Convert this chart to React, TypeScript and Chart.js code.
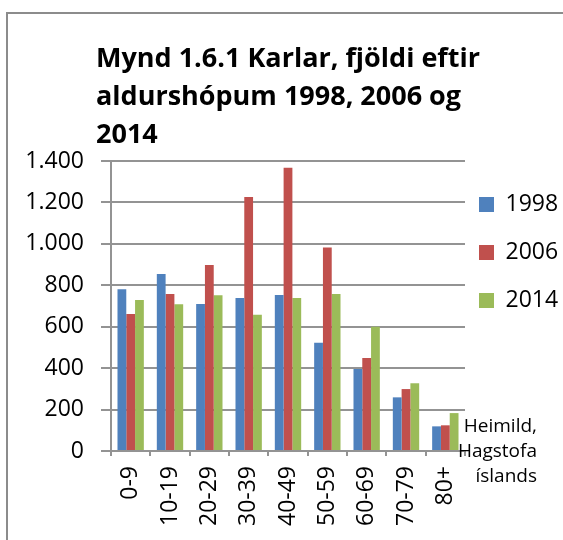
import React, { useEffect, useRef } from "react";
import { Chart, registerables } from "chart.js";

Chart.register(...registerables);

const categories = ["0-9", "10-19", "20-29", "30-39", "40-49", "50-59", "60-69", "70-79", "80+"];
const seriesNames = ["1998", "2006", "2014"];
const values1998 = [781, 855, 710, 739, 753, 523, 396, 259, 119];
const values2006 = [661, 758, 898, 1226, 1368, 983, 449, 299, 124];
const values2014 = [729, 708, 752, 658, 739, 758, 600, 327, 183];
const seriesColors = ["#4F81BD", "#C0504D", "#9BBB59"];
const yMin = 0;
const yMax = 1400;
const yStep = 200;
const titleLines = ["Mynd 1.6.1 Karlar, fjöldi eftir", "aldurshópum 1998, 2006 og", "2014"];
const sourceLines = ["Heimild,", "Hagstofa", "íslands"];

const FONT = "'Open Sans', 'Liberation Sans', sans-serif";
const GRID = "#939393";

function formatThousands(v: number): string {
  return String(v).replace(/\B(?=(\d{3})+(?!\d))/g, ".");
}

const textPlugin = {
  id: "textPlugin",
  afterDraw(chart: any) {
    const ctx = chart.ctx;
    ctx.save();
    ctx.fillStyle = "#000";
    ctx.textBaseline = "alphabetic";
    ctx.textAlign = "left";
    ctx.font = `bold 27px ${FONT}`;
    const titleBase = [67, 105, 143];
    titleLines.forEach((line, i) => ctx.fillText(line, 96, titleBase[i]));
    ctx.font = `19px ${FONT}`;
    ctx.textAlign = "right";
    const srcBase = [432, 457, 482];
    sourceLines.forEach((line, i) => ctx.fillText(line, 537, srcBase[i]));
    ctx.restore();
  },
};

export default function App() {
  const ref = useRef<HTMLCanvasElement | null>(null);

  useEffect(() => {
    if (!ref.current) return;
    const datasets = [values1998, values2006, values2014].map((vals, i) => ({
      label: seriesNames[i],
      data: vals,
      backgroundColor: seriesColors[i],
      borderWidth: 0,
      categoryPercentage: 0.67,
      barPercentage: 1,
    }));
    const chart = new Chart(ref.current, {
      type: "bar",
      data: { labels: categories, datasets },
      plugins: [textPlugin],
      options: {
        responsive: false,
        animation: false,
        layout: { padding: { top: 161, left: 0, right: 0, bottom: 0 } },
        plugins: {
          title: { display: false },
          tooltip: { enabled: false },
          legend: {
            display: true,
            position: "right",
            align: "start",
            fullSize: false,
            maxWidth: 98,
            title: { display: true, text: "", font: { size: 10 }, padding: { top: 6, bottom: 0 } },
            labels: {
              boxWidth: 15,
              boxHeight: 15,
              padding: 14,
              color: "#000",
              font: { family: FONT, size: 23, lineHeight: 34 / 23 },
              generateLabels: (c: any) => {
                const base = Chart.defaults.plugins.legend.labels.generateLabels(c);
                return base.map((it: any) => ({ ...it, text: [it.text], lineWidth: 0 }));
              },
            },
          },
        },
        scales: {
          x: {
            grid: {
              display: true,
              drawOnChartArea: false,
              drawTicks: true,
              tickLength: 5,
              color: GRID,
              lineWidth: 2,
              offset: true,
            },
            border: { display: true, color: GRID, width: 2 },
            ticks: {
              autoSkip: false,
              maxRotation: 90,
              minRotation: 90,
              padding: 10,
              color: "#000",
              font: { family: FONT, size: 23 },
            },
            afterFit: (s: any) => {
              s.height = 89;
            },
          },
          y: {
            min: yMin,
            max: yMax,
            grid: { color: GRID, lineWidth: 2, tickLength: 10 },
            border: { display: true, color: GRID, width: 2 },
            ticks: {
              stepSize: yStep,
              padding: 17,
              color: "#000",
              font: { family: FONT, size: 23 },
              callback: (v: any) => formatThousands(Number(v)),
            },
            afterFit: (s: any) => {
              s.width = 111;
            },
          },
        },
      },
    });
    return () => chart.destroy();
  }, []);

  return (
    <div style={{ position: "fixed", left: 0, top: 0, width: 563, height: 540, background: "#fff", overflow: "hidden" }}>
      <canvas ref={ref} width={563} height={540} style={{ position: "absolute", left: 0, top: 0 }} />
      <div
        style={{
          position: "absolute",
          left: 6,
          top: 12,
          width: 700,
          height: 700,
          borderLeft: "2px solid #8c8c8c",
          borderTop: "2px solid #8c8c8c",
          pointerEvents: "none",
        }}
      />
    </div>
  );
}
